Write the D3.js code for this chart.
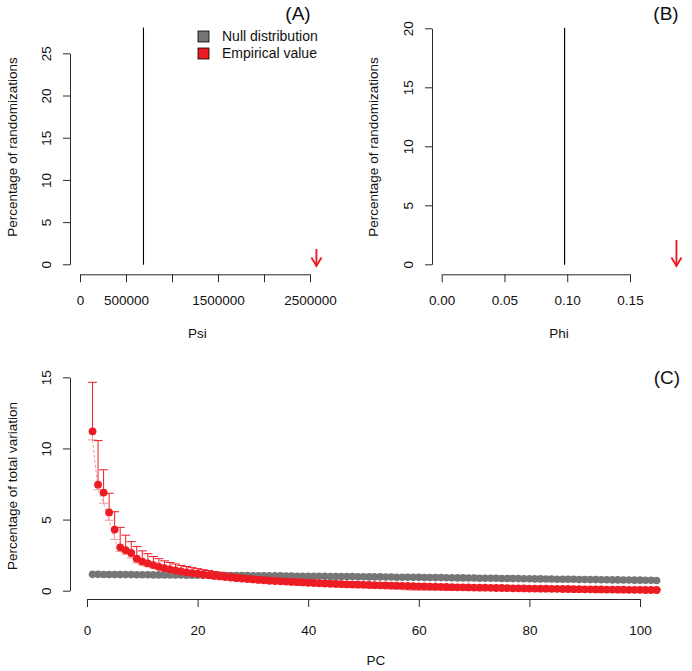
<!DOCTYPE html>
<html><head><meta charset="utf-8">
<script src="https://cdn.jsdelivr.net/npm/d3@7"></script>
<style>
body{margin:0;background:#fff}
svg{display:block}
text{font-family:"Liberation Sans",Arial,sans-serif;fill:#111}
</style>
</head><body>
<svg id="c" width="692" height="671"></svg>
<script>
// ---------- DATA ----------
// Panel A (Psi)
const psiTicks = [0, 500000, 1000000, 1500000, 2000000, 2500000];
const psiTickLabels = ["0", "500000", "", "1500000", "", "2500000"];
const psiYTicks = [0, 5, 10, 15, 20, 25];
const psiNullBin = [689000, 691000];
const psiNullPct = 28;
const psiEmpirical = 2570000;

// Panel B (Phi)
const phiTicks = [0, 0.05, 0.10, 0.15];
const phiTickLabels = ["0.00", "0.05", "0.10", "0.15"];
const phiYTicks = [0, 5, 10, 15, 20];
const phiNullBin = [0.0978, 0.0980];
const phiNullPct = 20;
const phiEmpirical = 0.187;

// Panel C (PC variation)
const pcXTicks = [0, 20, 40, 60, 80, 100];
const pcYTicks = [0, 5, 10, 15];
const nullVar = [
1.15,1.15,1.14,1.14,1.14,1.13,1.13,1.13,1.12,1.12,
1.12,1.11,1.11,1.11,1.10,1.10,1.10,1.09,1.09,1.09,
1.08,1.08,1.08,1.07,1.07,1.07,1.06,1.06,1.06,1.05,
1.05,1.05,1.04,1.04,1.04,1.03,1.03,1.02,1.02,1.02,
1.01,1.01,1.01,1.00,1.00,0.99,0.99,0.99,0.98,0.98,
0.97,0.97,0.97,0.96,0.96,0.95,0.95,0.95,0.94,0.94,
0.93,0.93,0.92,0.92,0.91,0.91,0.90,0.90,0.89,0.89,
0.88,0.88,0.87,0.87,0.86,0.86,0.85,0.85,0.84,0.84,
0.83,0.83,0.82,0.82,0.81,0.81,0.80,0.80,0.79,0.79,
0.78,0.78,0.77,0.77,0.76,0.76,0.75,0.75,0.74,0.74,
0.73,0.73,0.72];
const empVar = [
11.2,7.45,6.9,5.5,4.3,3.05,2.85,2.65,2.25,2.05,
1.92,1.8,1.68,1.58,1.5,1.42,1.35,1.29,1.24,1.19,
1.14,1.09,1.04,1.0,0.96,0.92,0.88,0.85,0.82,0.79,
0.76,0.73,0.70,0.68,0.66,0.64,0.62,0.60,0.58,0.56,
0.54,0.52,0.50,0.48,0.47,0.46,0.44,0.43,0.42,0.41,
0.40,0.39,0.38,0.37,0.36,0.35,0.34,0.33,0.32,0.31,
0.30,0.29,0.28,0.27,0.26,0.25,0.24,0.24,0.23,0.22,
0.21,0.21,0.20,0.19,0.19,0.18,0.17,0.17,0.16,0.15,
0.15,0.14,0.14,0.13,0.13,0.12,0.12,0.11,0.11,0.10,
0.10,0.09,0.09,0.08,0.08,0.07,0.07,0.06,0.06,0.06,
0.05,0.05,0.05];
const empUpper = [
14.65,10.55,8.5,6.85,5.55,4.45,3.9,3.45,3.1,2.8,
2.6,2.4,2.25,2.1,1.98,1.88,1.78,1.7,1.62,1.55,
1.48,1.42,1.35,1.3,1.24,1.18,1.13,1.08,1.04,1.0,
0.98,0.95,0.92,0.89,0.86,0.84,0.82,0.80,0.78,0.76,
0.74,0.72,0.70,0.68,0.67,0.65,0.63,0.62,0.61,0.59,
0.58,0.56,0.55,0.54,0.52,0.51,0.50,0.49,0.47,0.46,
0.45,0.44,0.43,0.42,0.41,0.40,0.39,0.38,0.37,0.36,
0.35,0.34,0.33,0.32,0.31,0.30,0.29,0.28,0.27,0.26,
0.25,0.24,0.24,0.23,0.22,0.21,0.21,0.20,0.19,0.18,
0.18,0.17,0.16,0.16,0.15,0.14,0.14,0.13,0.13,0.12,
0.12,0.11,0.11];
const empLower = [
10.6,7.1,6.15,4.95,3.6,2.75,2.55,2.3,1.95,1.8,
1.7,1.6,1.5,1.4,1.33,1.26,1.2,1.14,1.09,1.04,
0.99,0.95,0.91,0.87,0.83,0.79,0.76,0.72,0.69,0.66,
0.63,0.60,0.58,0.55,0.53,0.51,0.49,0.47,0.45,0.43,
0.41,0.39,0.37,0.35,0.33,0.31,0.29,0.27,0.25,0.23,
0.21,0.19,0.17,0.15,0.13,0.11,0.09,0.06,0.04,0.03,
0.03,0.03,0.03,0.03,0.03,0.03,0.03,0.03,0.03,0.03,
0.03,0.03,0.08,0.08,0.07,0.07,0.07,0.06,0.06,0.06,
0.06,0.05,0.05,0.05,0.05,0.04,0.04,0.04,0.04,0.04,
0.03,0.03,0.03,0.03,0.03,0.03,0.03,0.03,0.03,0.03,
0.02,0.02,0.02];
const legendLabels = ["Null distribution", "Empirical value"];

// ---------- STYLE ----------
const GRAY = "#767676", RED = "#ed1c24", PALE = "#f39a9a", AXC = "#2a2a2a";
const FS = 13.5;
const svg = d3.select("#c");

function styleAxis(g) {
  g.selectAll("path.domain").attr("stroke", AXC).attr("stroke-width", 1);
  g.selectAll(".tick line").attr("stroke", AXC).attr("stroke-width", 1);
  g.selectAll(".tick text").attr("font-size", FS).attr("fill", "#111")
    .attr("font-family", '"Liberation Sans",Arial,sans-serif');
}
function leftAxis(scale, ticks, xPos) {
  const g = svg.append("g").attr("transform", `translate(${xPos},0)`)
    .call(d3.axisLeft(scale).tickValues(ticks).tickSize(7).tickSizeOuter(0).tickFormat(d3.format("d")));
  styleAxis(g);
  g.selectAll(".tick text").attr("transform", "rotate(-90)")
    .attr("x", 0).attr("y", -24).attr("dy", "0.35em").attr("text-anchor", "middle");
  return g;
}
function bottomAxis(scale, ticks, labels, yPos, pad) {
  const g = svg.append("g").attr("transform", `translate(0,${yPos})`)
    .call(d3.axisBottom(scale).tickValues(ticks).tickSize(8).tickSizeOuter(0)
      .tickPadding(pad).tickFormat((d, i) => labels[i]));
  styleAxis(g);
  return g;
}
function arrowDown(x, y1, y2) {
  const g = svg.append("g").attr("stroke", RED).attr("stroke-width", 1.9).attr("fill", "none");
  g.append("line").attr("x1", x).attr("x2", x).attr("y1", y1).attr("y2", y2);
  g.append("path").attr("d", `M${x - 5},${y2 - 8.5}L${x},${y2}L${x + 5},${y2 - 8.5}`);
}
function ytitle(text, x, y) {
  svg.append("text").attr("transform", `translate(${x},${y}) rotate(-90)`)
    .attr("text-anchor", "middle").attr("dy", "0.35em").attr("font-size", FS).text(text);
}
function xtitle(text, x, y) {
  svg.append("text").attr("x", x).attr("y", y).attr("text-anchor", "middle")
    .attr("dy", "0.35em").attr("font-size", FS).text(text);
}
function panelLabel(text, x, y) {
  svg.append("text").attr("x", x).attr("y", y).attr("text-anchor", "middle")
    .attr("dy", "0.35em").attr("font-size", 19)
    .attr("font-family", '"Open Sans",sans-serif').text(text);
}

// ---------- PANEL A ----------
const xA = d3.scaleLinear().domain([0, 2500000]).range([80, 310]);
const yA = d3.scaleLinear().domain([0, psiNullPct]).range([264.3, 28]);
svg.append("rect")
  .attr("x", xA(psiNullBin[0])).attr("width", xA(psiNullBin[1]) - xA(psiNullBin[0]))
  .attr("y", yA(psiNullPct)).attr("height", yA(0) - yA(psiNullPct))
  .attr("fill", GRAY).attr("stroke", "#000").attr("stroke-width", 0.9);
leftAxis(yA.copy().domain([0, 25]).range([yA(0), yA(25)]), psiYTicks, 70);
bottomAxis(xA, psiTicks, psiTickLabels, 274.3, 13);
arrowDown(xA(psiEmpirical), 249, 266);
ytitle("Percentage of randomizations", 12, 147);
xtitle("Psi", 197.5, 333);
panelLabel("(A)", 298, 13);

// legend
legendLabels.forEach((lab, i) => {
  const y = 36.5 + i * 17;
  svg.append("rect").attr("x", 198).attr("y", y - 5.5).attr("width", 11).attr("height", 11)
    .attr("fill", i === 0 ? GRAY : RED).attr("stroke", "#000").attr("stroke-width", 0.8);
  svg.append("text").attr("x", 222).attr("y", y).attr("dy", "0.35em")
    .attr("font-size", 14).text(lab);
});

// ---------- PANEL B ----------
const xB = d3.scaleLinear().domain([0, 0.15]).range([441.7, 630]);
const yB = d3.scaleLinear().domain([0, phiNullPct]).range([264.3, 28.3]);
svg.append("rect")
  .attr("x", xB(phiNullBin[0])).attr("width", xB(phiNullBin[1]) - xB(phiNullBin[0]))
  .attr("y", yB(phiNullPct)).attr("height", yB(0) - yB(phiNullPct))
  .attr("fill", GRAY).attr("stroke", "#000").attr("stroke-width", 0.9);
leftAxis(yB, phiYTicks, 432);
bottomAxis(xB, phiTicks, phiTickLabels, 274.3, 13);
arrowDown(xB(phiEmpirical), 240, 266);
ytitle("Percentage of randomizations", 373, 147);
xtitle("Phi", 559, 333);
panelLabel("(B)", 666, 13);

// ---------- PANEL C ----------
const xC = d3.scaleLinear().domain([0, 100]).range([87, 640]);
const yC = d3.scaleLinear().domain([0, 15]).range([590.7, 377.3]);
const pcs = empVar.map((_, i) => i + 1);

leftAxis(yC, pcYTicks, 70);
bottomAxis(xC, pcXTicks, pcXTicks.map(String), 599, 18);
ytitle("Percentage of total variation", 12, 486);
xtitle("PC", 376, 660);
panelLabel("(C)", 667, 377);

// null points
svg.append("g").selectAll("circle").data(pcs).join("circle")
  .attr("cx", d => xC(d)).attr("cy", (d, i) => yC(nullVar[i])).attr("r", 3.8)
  .attr("fill", GRAY);

// lower bound dashed connecting line
svg.append("path")
  .attr("d", d3.line().x(d => xC(d)).y((d, i) => yC(empLower[i]))(pcs))
  .attr("fill", "none").attr("stroke", PALE).attr("stroke-width", 1).attr("stroke-dasharray", "3,2");

const cap = 4.5;
const eb = svg.append("g");
pcs.forEach((pc, i) => {
  const x = xC(pc);
  // lower arm (pale)
  eb.append("line").attr("x1", x).attr("x2", x).attr("y1", yC(empVar[i])).attr("y2", yC(empLower[i]))
    .attr("stroke", PALE).attr("stroke-width", 1);
  eb.append("line").attr("x1", x - cap).attr("x2", x + cap).attr("y1", yC(empLower[i])).attr("y2", yC(empLower[i]))
    .attr("stroke", PALE).attr("stroke-width", 1);
  // upper arm (red)
  eb.append("line").attr("x1", x).attr("x2", x).attr("y1", yC(empVar[i])).attr("y2", yC(empUpper[i]))
    .attr("stroke", RED).attr("stroke-width", 1);
  eb.append("line").attr("x1", x - cap).attr("x2", x + cap).attr("y1", yC(empUpper[i])).attr("y2", yC(empUpper[i]))
    .attr("stroke", RED).attr("stroke-width", 1);
});

// empirical points
svg.append("g").selectAll("circle").data(pcs).join("circle")
  .attr("cx", d => xC(d)).attr("cy", (d, i) => yC(empVar[i])).attr("r", 3.9)
  .attr("fill", RED);
</script>
</body></html>
